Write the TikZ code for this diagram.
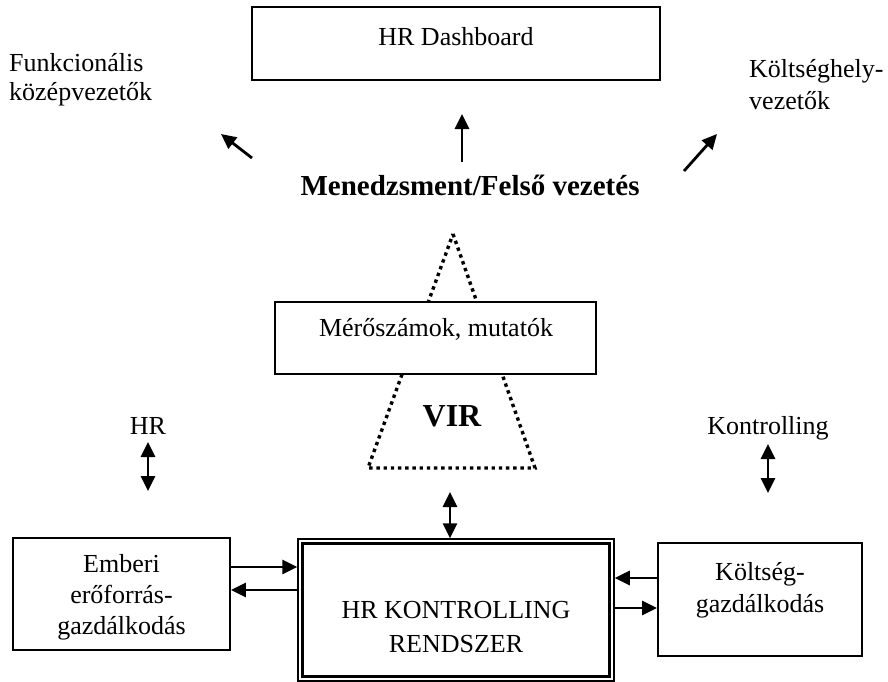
\documentclass[tikz,border=0pt]{standalone}
\usepackage{fontspec}
\setmainfont{Liberation Serif}
\usetikzlibrary{arrows.meta}
\begin{document}
\begin{tikzpicture}[x=1pt,y=-1pt,
  box/.style={draw, line width=1.8pt, fill=white, inner sep=0pt},
  txt/.style={font=\fontsize{26}{31}\selectfont, inner sep=0pt},
  arr/.style={line width=2.8pt, -{Triangle[length=15pt,width=14pt]}},
  darr/.style={line width=2.8pt, {Triangle[length=15pt,width=14pt]}-{Triangle[length=15pt,width=14pt]}},
  dots/.style={line width=3.4pt, dash pattern=on 3.4pt off 3.8pt},
]
\useasboundingbox (0,0) rectangle (888,682);

% dotted triangle (behind the box)
\coordinate (apex) at (453,234);
\coordinate (bl) at (368,468);
\coordinate (br) at (535,468);
\draw[dots] (apex) -- (br) -- (bl) -- cycle;

% boxes
\node[box, minimum width=408pt, minimum height=73pt] (dash) at (456,43.5) {};
\node[box, minimum width=321pt, minimum height=72pt] (mer) at (435.5,338) {};
\node[box, minimum width=217pt, minimum height=112pt] (emb) at (121.5,594) {};
\node[box, minimum width=204pt, minimum height=113pt] (kolt) at (760,599.5) {};
\node[draw, line width=1.5pt, fill=white, inner sep=0pt, minimum width=316pt, minimum height=142pt] (hrk) at (456,610) {};
\draw[line width=2.6pt] ([shift={(5.5,5.5)}]hrk.north west) rectangle ([shift={(-5.5,-5.5)}]hrk.south east);

% texts
\node[txt, anchor=base] (tdash) at (456,46) {HR Dashboard};
\node[txt, anchor=base] (tmer) at (436,336) {Mérőszámok, mutatók};
\node[txt, align=center] (temb) at (121.5,597) {Emberi\\erőforrás-\\gazdálkodás};
\node[txt, align=center, anchor=north, font=\fontsize{26}{32}\selectfont] (tkolt) at (760,562) {Költség-\\gazdálkodás};
\node[txt, align=center, anchor=north, font=\fontsize{26}{34}\selectfont] (thrk) at (456,601) {HR KONTROLLING\\RENDSZER};
\node[txt, align=left, anchor=north west, font=\fontsize{26}{29}\selectfont] (funk) at (9,53) {Funkcionális\\középvezetők};
\node[txt, align=left, anchor=north west, font=\fontsize{26}{32}\selectfont] (kh) at (749,59) {Költséghely-\\vezetők};
\node[inner sep=0pt, anchor=base, font=\bfseries\fontsize{29}{34}\selectfont] (men) at (470,195) {Menedzsment/Felső vezetés};
\node[inner sep=0pt, anchor=base, font=\bfseries\fontsize{32}{36}\selectfont] (vir) at (452,426) {VIR};
\node[txt, anchor=base] (hr) at (148,434) {HR};
\node[txt, anchor=base] (kon) at (768,434) {Kontrolling};

% arrows upper part
\coordinate (upA) at (462,162);
\coordinate (upB) at (462,114);
\draw[arr] (upA) -- (upB);
\coordinate (nwA) at (252,158);
\coordinate (nwB) at (221,134);
\draw[arr] (nwA) -- (nwB);
\coordinate (neA) at (684,171);
\coordinate (neB) at (717,134);
\draw[arr] (neA) -- (neB);

% double arrows
\coordinate (hrA) at (148,442);
\coordinate (hrB) at (148,491);
\draw[darr] (hrA) -- (hrB);
\coordinate (konA) at (768,444);
\coordinate (konB) at (768,493);
\draw[darr] (konA) -- (konB);
\coordinate (virA) at (450,492);
\draw[darr] (virA) -- (virA |- hrk.north);

% side arrows
\draw[arr] ([yshift=27pt]emb.east) -- ([yshift=27pt]emb.east -| hrk.west);
\draw[arr] ([yshift=4pt]emb.east -| hrk.west) -- ([yshift=4pt]emb.east);
\draw[arr] ([yshift=21.5pt]kolt.west) -- ([yshift=21.5pt]kolt.west -| hrk.east);
\draw[arr] ([yshift=-8.5pt]kolt.west -| hrk.east) -- ([yshift=-8.5pt]kolt.west);
\end{tikzpicture}
\end{document}
